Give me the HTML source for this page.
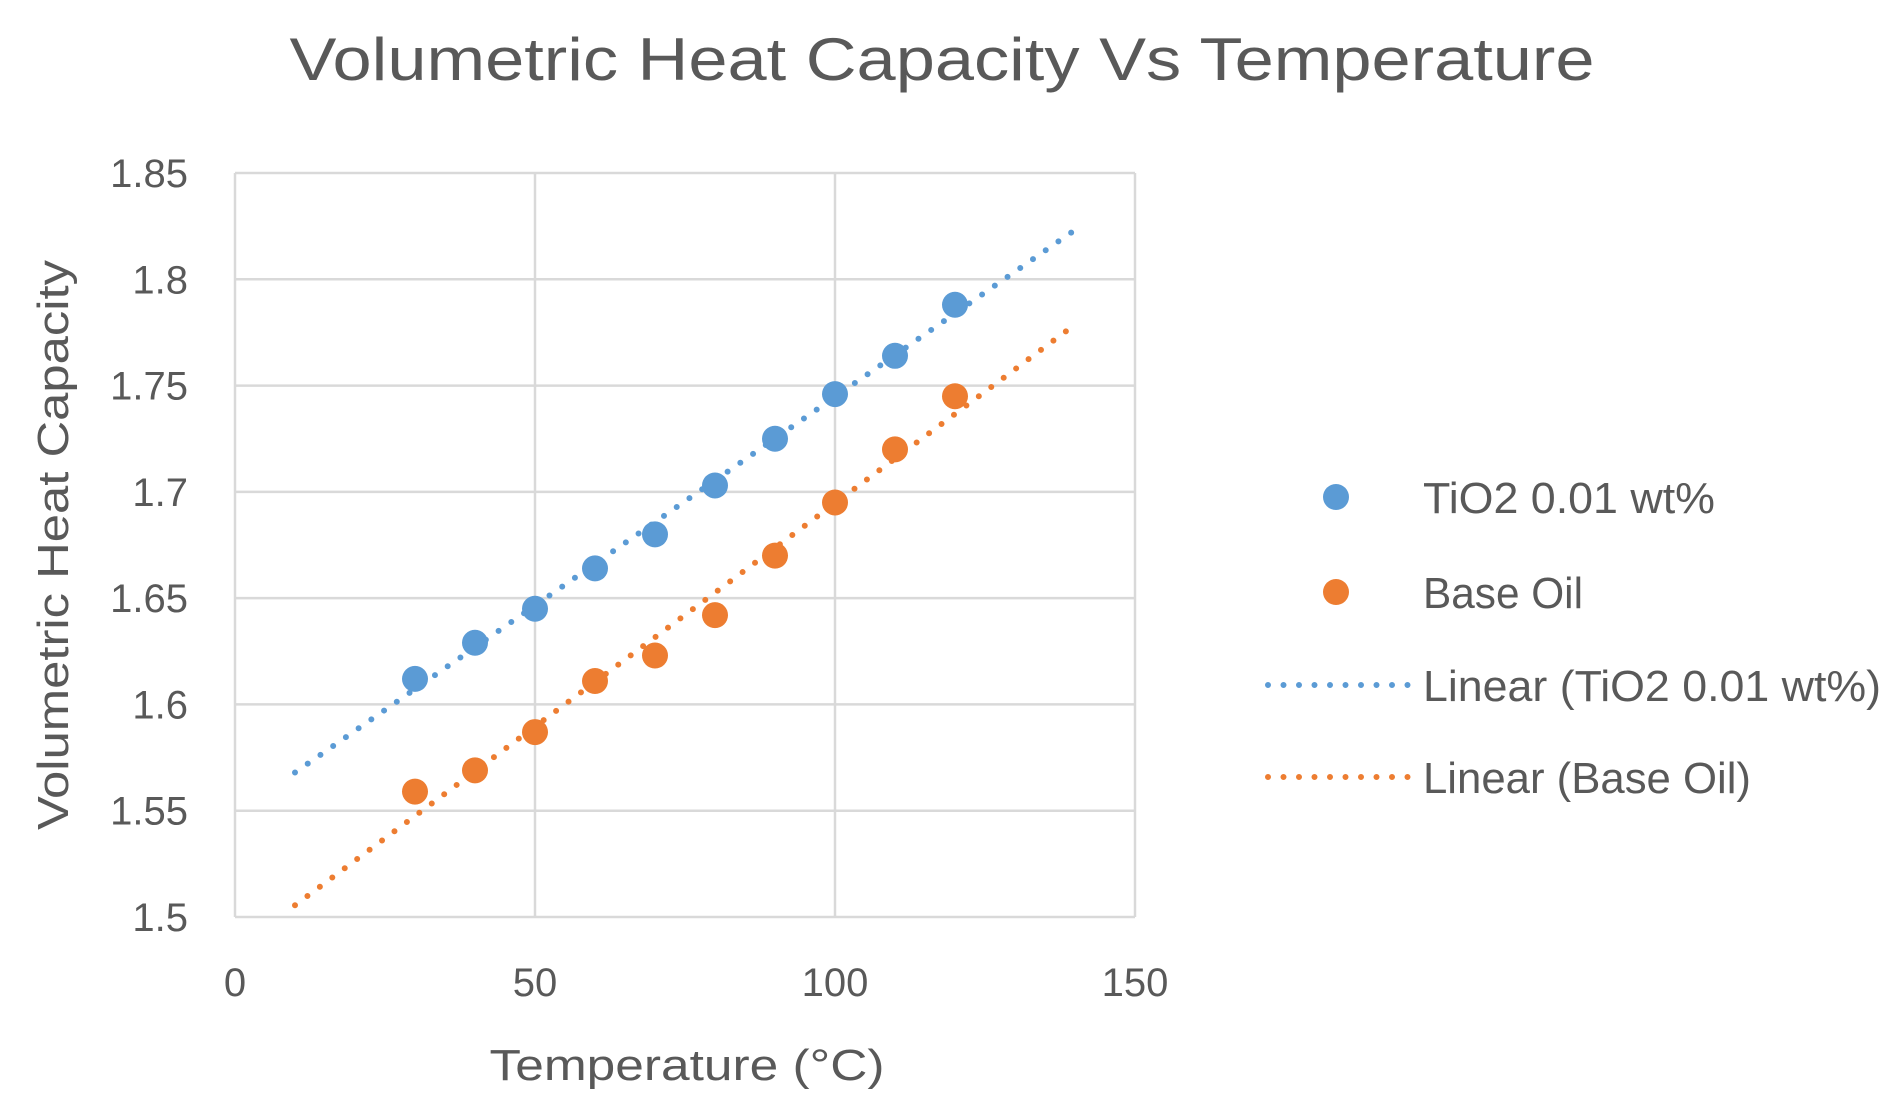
<!DOCTYPE html>
<html><head><meta charset="utf-8"><style>
html,body{margin:0;padding:0;background:#fff;}
svg{display:block;font-family:"Liberation Sans",sans-serif;}
</style></head><body>
<svg id="chart" width="1899" height="1113" viewBox="0 0 1899 1113">
<text x="942" y="80" text-anchor="middle" font-size="60" fill="#595959" textLength="1305" lengthAdjust="spacingAndGlyphs">Volumetric Heat Capacity Vs Temperature</text>
<g id="grid"></g><g id="axes"></g><g id="series"></g>
<text x="687" y="1080" text-anchor="middle" font-size="44" fill="#595959" textLength="395" lengthAdjust="spacingAndGlyphs">Temperature (°C)</text>
<text transform="translate(68,545) rotate(-90)" text-anchor="middle" font-size="44" fill="#595959" textLength="570" lengthAdjust="spacingAndGlyphs">Volumetric Heat Capacity</text>
<g>
<g><circle cx="1336" cy="497" r="13" fill="#5B9BD5"/><text x="1423" y="513" font-size="44" fill="#595959" textLength="292" lengthAdjust="spacingAndGlyphs">TiO2 0.01 wt%</text></g>
<g><circle cx="1336" cy="592" r="13" fill="#ED7D31"/><text x="1423" y="608" font-size="44" fill="#595959" textLength="160" lengthAdjust="spacingAndGlyphs">Base Oil</text></g>
<g><line x1="1268" y1="685" x2="1408" y2="685" stroke="#5B9BD5" stroke-width="6" stroke-linecap="round" stroke-dasharray="0 15.5"/><text x="1423" y="701" font-size="44" fill="#595959" textLength="458" lengthAdjust="spacingAndGlyphs">Linear (TiO2 0.01 wt%)</text></g>
<g><line x1="1268" y1="777" x2="1408" y2="777" stroke="#ED7D31" stroke-width="6" stroke-linecap="round" stroke-dasharray="0 15.5"/><text x="1423" y="793" font-size="44" fill="#595959" textLength="328" lengthAdjust="spacingAndGlyphs">Linear (Base Oil)</text></g>
</g>
</svg>
<script>
const temps = [30,40,50,60,70,80,90,100,110,120];
const tio2 = [1.612,1.629,1.645,1.664,1.680,1.703,1.725,1.746,1.764,1.788];
const baseOil = [1.559,1.569,1.587,1.611,1.623,1.642,1.670,1.695,1.720,1.745];
const xTicks = [0,50,100,150];
const yTicks = [1.5,1.55,1.6,1.65,1.7,1.75,1.8,1.85];
const trendRange = [10,140];

const NS="http://www.w3.org/2000/svg";
const X0=235,X1=1135,Y0=917,Y1=173;
const xs=v=>X0+(v-0)/(150-0)*(X1-X0);
const ys=v=>Y0-(v-1.5)/(1.85-1.5)*(Y0-Y1);
function mk(tag,attrs,parent){const e=document.createElementNS(NS,tag);for(const k in attrs)e.setAttribute(k,attrs[k]);parent.appendChild(e);return e;}
const grid=document.getElementById('grid'),axes=document.getElementById('axes'),ser=document.getElementById('series');
yTicks.forEach(t=>{
  const l=mk('line',{x1:X0,x2:X1,y1:ys(t),y2:ys(t),stroke:'#d9d9d9','stroke-width':2.5},grid);
  
  
  const tx=mk('text',{x:188,y:ys(t)+14,'text-anchor':'end','font-size':40,fill:'#595959'},axes);
  tx.textContent=String(t);
  
  
});
xTicks.forEach(t=>{
  const l=mk('line',{x1:xs(t),x2:xs(t),y1:Y1,y2:Y0,stroke:'#d9d9d9','stroke-width':2.5},grid);
  
  
  const tx=mk('text',{x:xs(t),y:996,'text-anchor':'middle','font-size':40,fill:'#595959'},axes);
  tx.textContent=String(t);
  
  
});
function fit(xv,yv){const n=xv.length;let sx=0,sy=0,sxx=0,sxy=0;for(let i=0;i<n;i++){sx+=xv[i];sy+=yv[i];sxx+=xv[i]*xv[i];sxy+=xv[i]*yv[i];}const b=(n*sxy-sx*sy)/(n*sxx-sx*sx);return [b,(sy-b*sx)/n];}
[[tio2,'#5B9BD5','tio2'],[baseOil,'#ED7D31','base-oil']].forEach(([vals,col,nm])=>{
  const [b,a]=fit(temps,vals);
  const tl=mk('line',{x1:xs(trendRange[0]),y1:ys(a+b*trendRange[0]),x2:xs(trendRange[1]),y2:ys(a+b*trendRange[1]),stroke:col,'stroke-width':6,'stroke-linecap':'round','stroke-dasharray':'0 15.5'},ser);
  
  
  temps.forEach((t,i)=>{
    const c=mk('circle',{cx:xs(t),cy:ys(vals[i]),r:13,fill:col},ser);
    
    
  });
});
</script>
</body></html>
